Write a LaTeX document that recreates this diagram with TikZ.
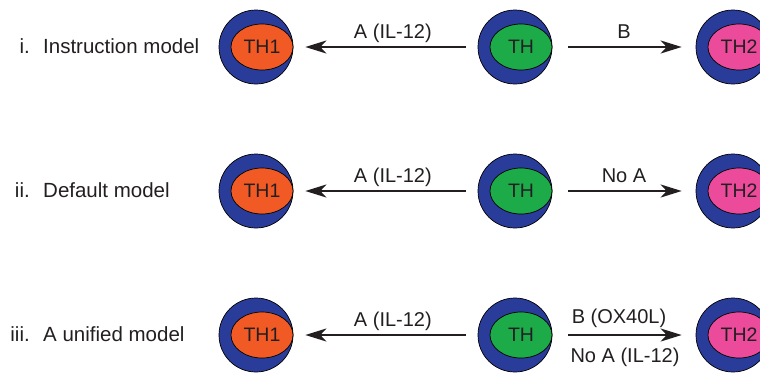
\documentclass[tikz,border=0pt]{standalone}
\usepackage{fontspec}
\setmainfont{Liberation Sans}
\usetikzlibrary{shapes.geometric,arrows.meta}
\definecolor{cellblue}{HTML}{2A3C99}
\definecolor{thorange}{HTML}{F15A24}
\definecolor{thgreen}{HTML}{1DAB4A}
\definecolor{thpink}{HTML}{EC4A9B}
\definecolor{txt}{HTML}{231F20}
\tikzset{
  cellouter/.style={circle, draw=black, line width=0.7pt, fill=cellblue, minimum size=74pt, inner sep=0pt},
  cellinner/.style={ellipse, draw=black, line width=0.7pt, minimum width=62pt, minimum height=46pt, inner sep=0pt, text=txt, font=\fontsize{19.5}{22}\selectfont},
  lbl/.style={text=txt, font=\fontsize{20.5}{24}\selectfont, inner sep=0pt},
  arrlbl/.style={text=txt, font=\fontsize{20}{24}\selectfont, inner sep=0pt},
  conn/.style={line width=2.3pt, draw=txt, -{Stealth[length=21pt, width=13pt, inset=6pt]}},
}
\begin{document}
\begin{tikzpicture}[x=1pt, y=-1pt]
\useasboundingbox (0,0) rectangle (760,376);
% Row positions 47, 191, 335
\foreach \r/\yy in {a/47, b/191, c/335} {
  \node[cellouter] (o1\r) at (256,\yy) {};
  \node[cellinner, fill=thorange] (i1\r) at (262,\yy) {TH1};
  \node[cellouter] (o0\r) at (515,\yy) {};
  \node[cellinner, fill=thgreen] (i0\r) at (521,\yy) {TH};
  \node[cellouter] (o2\r) at (733,\yy) {};
  \node[cellinner, fill=thpink] (i2\r) at (739,\yy) {TH2};
  \draw[conn, shorten <=12pt, shorten >=12pt] (o0\r) -- node[arrlbl, anchor=base, pos=0.46, yshift=9pt] {A (IL-12)} (o1\r);
}
\draw[conn, shorten <=16pt, shorten >=14pt] (o0a) -- node[arrlbl, anchor=base, yshift=9pt] {B} (o2a);
\draw[conn, shorten <=16pt, shorten >=14pt] (o0b) -- node[arrlbl, anchor=base, yshift=9pt] {No A} (o2b);
\draw[conn, shorten <=16pt, shorten >=14pt] (o0c) -- node[arrlbl, anchor=base, xshift=-5pt, yshift=12pt] (bl) {B (OX40L)} (o2c);
\node[arrlbl, anchor=base] (nl) at (625,362) {No A (IL-12)};
% left labels
\node[lbl, anchor=base east] (n1) at (30,53) {i.};
\node[lbl, anchor=base west] (t1) at (43,53) {Instruction model};
\node[lbl, anchor=base east] (n2) at (30,197) {ii.};
\node[lbl, anchor=base west] (t2) at (43,197) {Default model};
\node[lbl, anchor=base east] (n3) at (30,341) {iii.};
\node[lbl, anchor=base west] (t3) at (43,341) {A unified model};
\end{tikzpicture}
\end{document}
